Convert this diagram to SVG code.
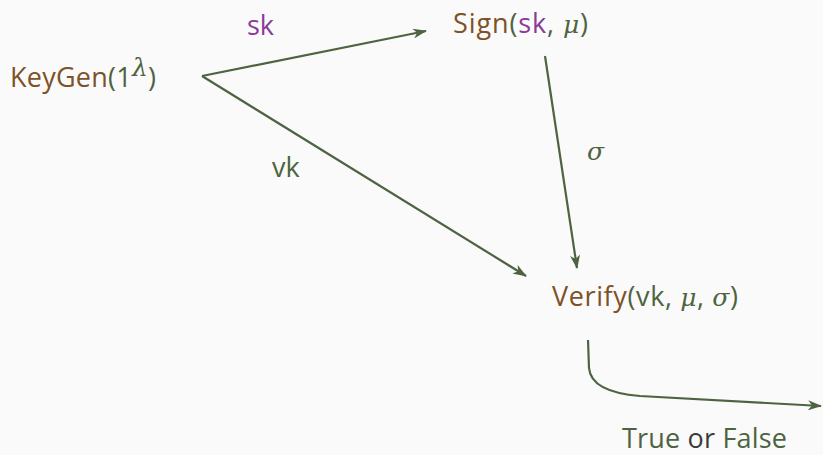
<svg xmlns="http://www.w3.org/2000/svg" width="823" height="455" viewBox="0 0 823 455">
<style>
text{font-family:"Open Sans","Noto Sans",sans-serif;font-size:27px}
.b{fill:#7d5227}
.g{fill:#4e6340}
.p{fill:#8b3a98}
.k{fill:#3a3a3a}
.m{font-family:"DejaVu Serif",serif;font-style:italic;font-size:25px}
.e{fill:none;stroke:#4e6340;stroke-width:2.2}
</style>
<defs>
<marker id="a" viewBox="0 0 14 10" refX="13" refY="5" markerWidth="14" markerHeight="10" markerUnits="userSpaceOnUse" orient="auto">
<path d="M0,0 L14,5 L0,10 L4,5 Z" fill="#4e6340"/>
</marker>
</defs>
<rect width="823" height="455" fill="#fafafa"/>
<g id="connectors">
<path class="e" d="M202,76 L426,31" marker-end="url(#a)"/>
<path class="e" d="M202,76 L526,276" marker-end="url(#a)"/>
<path class="e" d="M545,56 L577,268" marker-end="url(#a)"/>
<path class="e" d="M588,340 L589,368 Q591,392 640,396 L821,406" marker-end="url(#a)"/>
<text class="p" x="247" y="35">sk</text>
<text class="g" x="272" y="177">vk</text>
<text class="g m" x="587" y="160">σ</text>
</g>
<g id="keygen"><text x="10" y="87" textLength="146" lengthAdjust="spacing"><tspan class="b">KeyGen</tspan><tspan class="g">(1</tspan><tspan class="g m" font-size="17" dy="-11">λ</tspan><tspan class="g" dy="11">)</tspan></text></g>
<g id="sign"><text x="453" y="33" textLength="135" lengthAdjust="spacing"><tspan class="b">Sign</tspan><tspan class="g">(</tspan><tspan class="p">sk</tspan><tspan class="g">, </tspan><tspan class="g m">μ</tspan><tspan class="g">)</tspan></text></g>
<g id="verify"><text x="552" y="306" textLength="186" lengthAdjust="spacing"><tspan class="b">Verify</tspan><tspan class="g">(vk, </tspan><tspan class="g m">μ</tspan><tspan class="g">, </tspan><tspan class="g m">σ</tspan><tspan class="g">)</tspan></text></g>
<g id="result"><text x="622" y="448" textLength="165" lengthAdjust="spacing"><tspan class="g">True</tspan><tspan class="k"> or </tspan><tspan class="g">False</tspan></text></g>
</svg>
